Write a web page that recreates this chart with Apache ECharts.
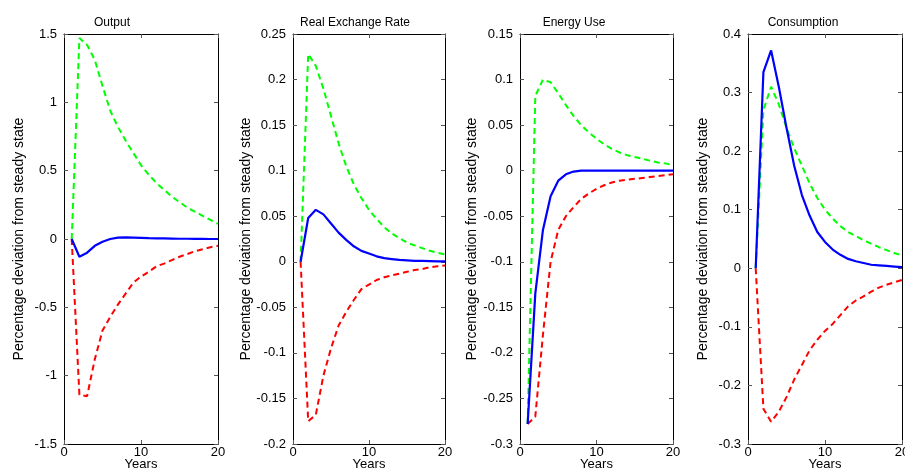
<!DOCTYPE html>
<html><head><meta charset="utf-8">
<script src="https://cdn.jsdelivr.net/npm/echarts@6/dist/echarts.min.js"></script>
<style>html,body{margin:0;padding:0;background:#fff}#c{width:905px;height:470px}</style>
</head><body><div id="c"></div>
<script>
const years = [1,2,3,4,5,6,7,8,9,10,11,12,13,14,15,16,17,18,19,20];
const titles = ['Output','Real Exchange Rate','Energy Use','Consumption'];
const yLabel = 'Percentage deviation from steady state';
const xLabel = 'Years';

const outputBlue  = [0,-0.13,-0.10,-0.05,-0.02,0.0,0.01,0.012,0.01,0.008,0.006,0.005,0.004,0.003,0.002,0.002,0.001,0.001,0.0,0.0];
const outputGreen = [0,1.47,1.42,1.31,1.12,0.94,0.82,0.72,0.63,0.54,0.47,0.41,0.36,0.31,0.27,0.23,0.20,0.17,0.14,0.11];
const outputRed   = [0,-1.14,-1.15,-0.88,-0.67,-0.57,-0.48,-0.40,-0.32,-0.275,-0.24,-0.20,-0.18,-0.155,-0.13,-0.11,-0.09,-0.075,-0.06,-0.05];

const rerBlue  = [0,0.048,0.057,0.052,0.042,0.032,0.024,0.017,0.012,0.009,0.006,0.004,0.003,0.002,0.0015,0.001,0.001,0.0008,0.0005,0.0004];
const rerGreen = [0,0.228,0.215,0.19,0.16,0.13,0.105,0.085,0.07,0.057,0.047,0.038,0.031,0.026,0.021,0.018,0.015,0.012,0.010,0.008];
const rerRed   = [0,-0.175,-0.168,-0.125,-0.095,-0.07,-0.055,-0.042,-0.03,-0.025,-0.02,-0.017,-0.015,-0.013,-0.011,-0.009,-0.008,-0.006,-0.005,-0.004];

const energyBlue  = [-0.278,-0.135,-0.065,-0.028,-0.011,-0.004,-0.001,0,0,0,0,0,0,0,0,0,0,0,0,0];
const energyGreen = [-0.278,0.082,0.100,0.097,0.085,0.072,0.060,0.050,0.042,0.035,0.029,0.024,0.020,0.017,0.015,0.013,0.011,0.009,0.008,0.006];
const energyRed   = [-0.278,-0.27,-0.18,-0.10,-0.065,-0.05,-0.04,-0.031,-0.025,-0.02,-0.016,-0.013,-0.011,-0.010,-0.009,-0.008,-0.007,-0.006,-0.005,-0.004];

const consBlue  = [0,0.335,0.372,0.31,0.24,0.175,0.125,0.09,0.062,0.045,0.032,0.023,0.016,0.012,0.009,0.006,0.005,0.004,0.003,0.002];
const consGreen = [0,0.27,0.31,0.28,0.24,0.205,0.175,0.145,0.12,0.10,0.085,0.072,0.062,0.055,0.048,0.042,0.036,0.031,0.026,0.022];
const consRed   = [0,-0.24,-0.262,-0.245,-0.22,-0.19,-0.165,-0.14,-0.122,-0.107,-0.095,-0.08,-0.065,-0.055,-0.048,-0.04,-0.033,-0.028,-0.024,-0.02];

const yMins = [-1.5,-0.2,-0.3,-0.3];
const yMaxs = [1.5,0.25,0.15,0.4];
const yIntervals = [0.5,0.05,0.05,0.1];
const xMin = 0, xMax = 20, xInterval = 10;

const panels = [
  [outputBlue, outputGreen, outputRed],
  [rerBlue, rerGreen, rerRed],
  [energyBlue, energyGreen, energyRed],
  [consBlue, consGreen, consRed]
];

const grids = [
  {left:64, right:687, top:34, bottom:26, outerBoundsMode:'none', containLabel:false},
  {left:293, right:460, top:34, bottom:26, outerBoundsMode:'none', containLabel:false},
  {left:520, right:232, top:34, bottom:26, outerBoundsMode:'none', containLabel:false},
  {left:748, right:3, top:34, bottom:26, outerBoundsMode:'none', containLabel:false}
];
const titleCenters = [107, 350, 569, 798];
const font = 'Arial, "Liberation Sans", sans-serif';

const xAxes = [], yAxes = [], series = [], titleArr = [];
const pair = d => d.map((v,i)=>[years[i], v]);
const lineCol = '#000';
const tickStyle = {show:true, inside:true, length:4, lineStyle:{color:'#555', width:1}};

grids.forEach((g, i) => {
  xAxes.push({type:'value', gridIndex:i, position:'bottom', min:xMin, max:xMax, interval:xInterval,
    axisLine:{show:true, onZero:false, lineStyle:{color:lineCol, width:1}},
    axisTick:tickStyle, splitLine:{show:false},
    axisLabel:{color:'#000', fontFamily:font, fontSize:13, margin:2},
    name:xLabel, nameLocation:'middle', nameGap:20, nameMoveOverlap:false,
    nameTextStyle:{color:'#000', fontFamily:font, fontSize:13, verticalAlign:'middle'}});
  xAxes.push({type:'value', gridIndex:i, position:'top', min:xMin, max:xMax, interval:xInterval,
    axisLine:{show:true, onZero:false, lineStyle:{color:lineCol, width:1}},
    axisTick:tickStyle, splitLine:{show:false}, axisLabel:{show:false}});
  yAxes.push({type:'value', gridIndex:i, position:'left', min:yMins[i], max:yMaxs[i], interval:yIntervals[i],
    axisLine:{show:true, onZero:false, lineStyle:{color:lineCol, width:1}},
    axisTick:tickStyle, splitLine:{show:false},
    axisLabel:{color:'#000', fontFamily:font, fontSize:13, margin:7},
    name:yLabel, nameLocation:'middle', nameRotate:90, nameGap:[38,40,41,38][i], nameMoveOverlap:false,
    nameTextStyle:{color:'#000', fontFamily:font, fontSize:14}});
  yAxes.push({type:'value', gridIndex:i, position:'right', min:yMins[i], max:yMaxs[i], interval:yIntervals[i],
    axisLine:{show:true, onZero:false, lineStyle:{color:lineCol, width:1}},
    axisTick:tickStyle, splitLine:{show:false}, axisLabel:{show:false}});
  titleArr.push({text:titles[i], left:titleCenters[i], top:12, textAlign:'center',
    textStyle:{color:'#000', fontFamily:font, fontSize:12, fontWeight:'normal'}});
  const [b, gr, r] = panels[i];
  const base = {type:'line', xAxisIndex:2*i, yAxisIndex:2*i, showSymbol:false, symbol:'none', animation:false, silent:true};
  series.push(Object.assign({}, base, {data:pair(gr), lineStyle:{color:'#00ff00', width:2, type:[6,4]}, z:2}));
  series.push(Object.assign({}, base, {data:pair(r), lineStyle:{color:'#ff0000', width:2, type:[6,4]}, z:2}));
  series.push(Object.assign({}, base, {data:pair(b), lineStyle:{color:'#0000ff', width:2.2, type:'solid'}, z:3}));
});

const chart = echarts.init(document.getElementById('c'), null, {renderer:'canvas'});
chart.setOption({animation:false, backgroundColor:'#fff', title:titleArr, grid:grids, xAxis:xAxes, yAxis:yAxes, series:series});
</script></body></html>
